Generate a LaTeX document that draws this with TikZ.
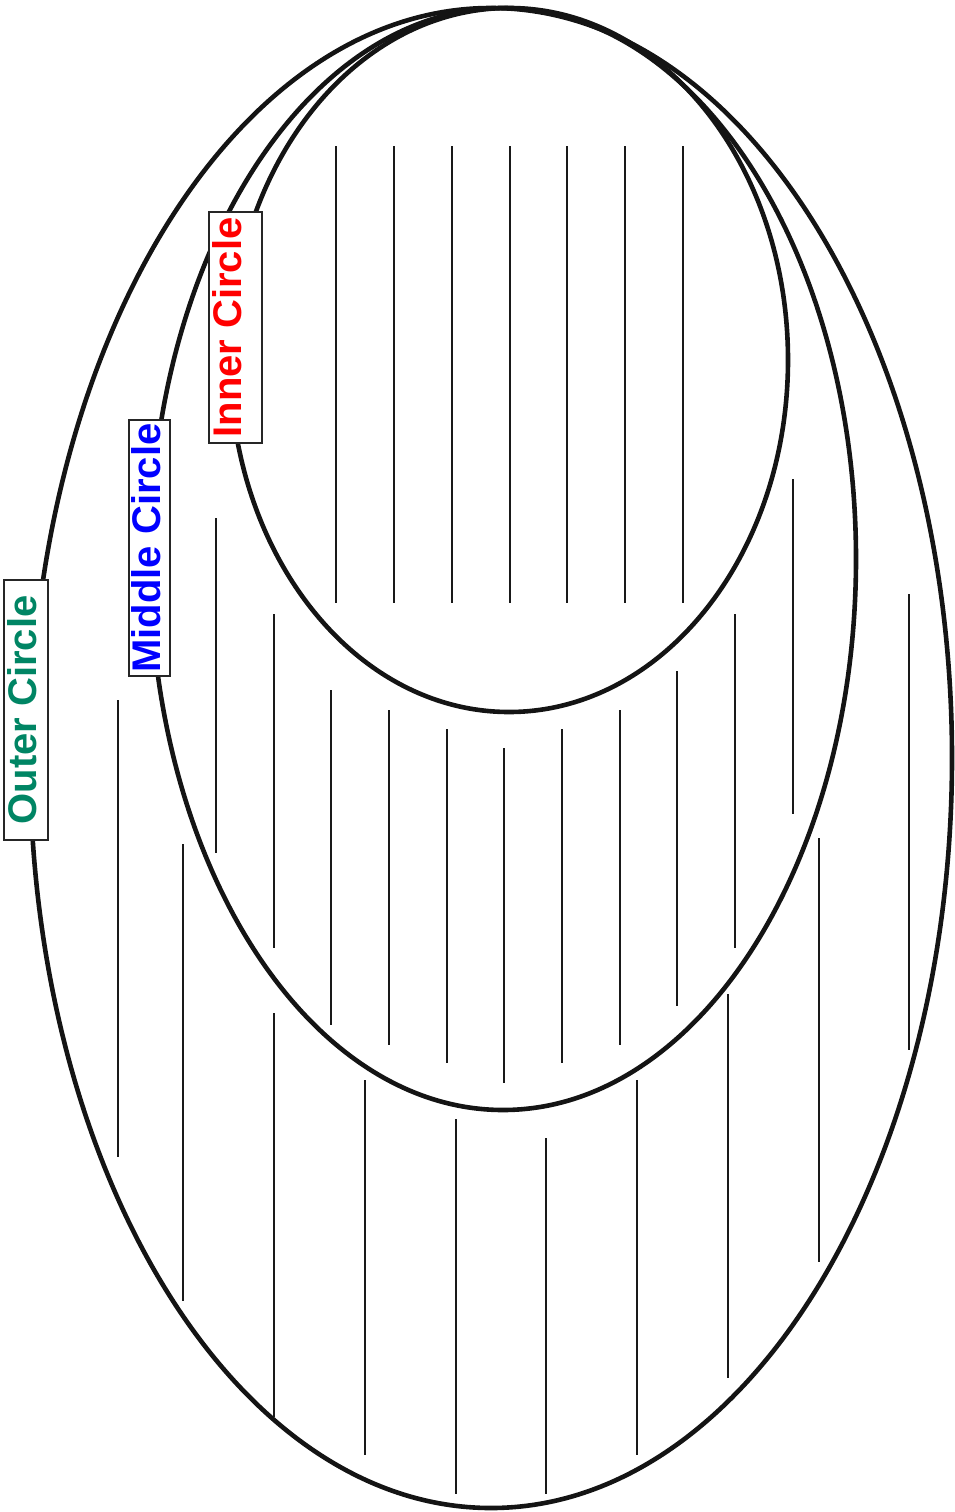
\documentclass[tikz,border=0pt]{standalone}
\usepackage{fontspec}
\setmainfont{Liberation Sans}
\definecolor{OuterGreen}{RGB}{0,133,100}
\definecolor{MiddleBlue}{RGB}{0,0,255}
\definecolor{InnerRed}{RGB}{255,0,0}

\begin{document}
\begin{tikzpicture}[
    x=1pt, y=-1pt,
    rim/.style={line width=4.6pt, draw=black!92},
    hatch/.style={line width=2.3pt, draw=black!90},
    tag/.style={
        rectangle, draw=black!85, line width=2pt, fill=white,
        rotate=90, inner sep=0pt, align=center,
        font=\fontsize{40}{42}\selectfont\bfseries, text=#1
    }
]
\useasboundingbox (0,0) rectangle (954,1512);

% ===================================================================
% ELLIPSES (all touching at the top)
% ===================================================================
\draw[rim] (491,758) ellipse [x radius=461, y radius=750];
\draw[rim] (503,559) ellipse [x radius=353, y radius=551];
\draw[rim] (509,360) ellipse [x radius=279, y radius=352];

% ===================================================================
% HATCHING
% ===================================================================
% inner region
\foreach \x in {336,394,452,510,567,625,683}
    \draw[hatch] (\x,146) -- (\x,603);

% middle ring
\foreach \x/\ya/\yb in {216/518/853, 274/614/948, 331/690/1025,
    389/710/1045, 447/729/1063, 504/748/1083, 562/729/1063,
    620/710/1045, 677/671/1006, 735/614/948, 793/479/814}
    \draw[hatch] (\x,\ya) -- (\x,\yb);

% outer ring
\foreach \x/\ya/\yb in {118/700/1157, 183/844/1301, 274/1013/1417,
    365/1080/1455, 456/1119/1494, 546/1138/1494, 637/1080/1455,
    728/994/1378, 819/838/1262, 909/594/1050}
    \draw[hatch] (\x,\ya) -- (\x,\yb);

% ===================================================================
% LABELS
% ===================================================================
\node[tag=OuterGreen, minimum width=260pt, text height=32pt, text depth=12pt]
    (outer) at (26,710) {Outer Circle};
\node[tag=MiddleBlue, minimum width=256pt, text height=31pt, text depth=10pt]
    (middle) at (149.5,548) {Middle Circle};
\node[tag=InnerRed, minimum width=231pt, text height=33pt, text depth=20pt]
    (inner) at (235,327.5) {Inner Circle};

\end{tikzpicture}
\end{document}
